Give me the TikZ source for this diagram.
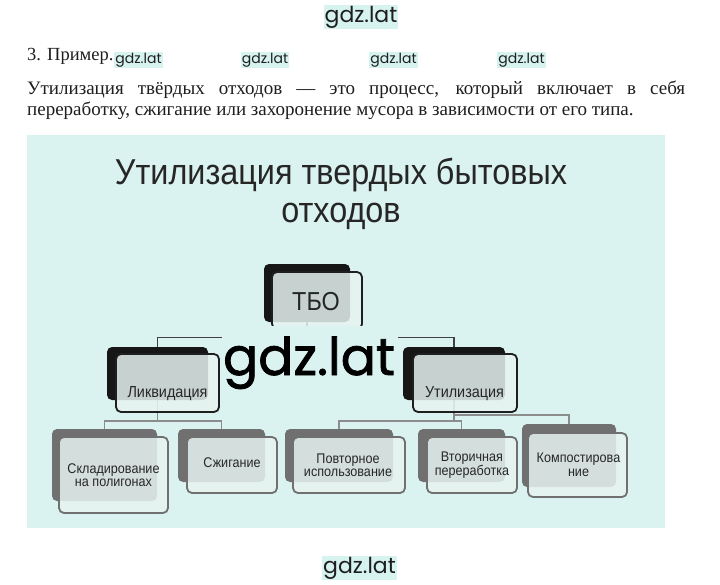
\documentclass[tikz,border=0pt]{standalone}
\usepackage{fontspec}
\setmainfont{Liberation Serif}
\newfontfamily\diag[FakeStretch=0.9]{Liberation Sans}
\newfontfamily\wm{Poppins}
\newfontfamily\wmb[FakeBold=1.5]{Poppins}
\definecolor{panel}{RGB}{219,243,240}
\definecolor{frontfill}{RGB}{230,243,241}
\definecolor{darkback}{RGB}{22,22,22}
\definecolor{grayback}{RGB}{112,112,112}
\definecolor{hl}{RGB}{214,243,239}
\definecolor{ink}{RGB}{30,30,30}
\tikzset{
 box/.style={rectangle, rounded corners=5pt, inner sep=0pt},
 backA/.style={box, fill=darkback},
 backB/.style={box, fill=grayback},
 frontA/.style={box, draw=black!88, line width=1.8pt, fill=frontfill, fill opacity=0.85},
 frontB/.style={box, draw=grayback, line width=1.8pt, fill=frontfill, fill opacity=0.85},
 linkA/.style={draw=black!75, line width=1.3pt},
 linkB/.style={draw=black!45, line width=1.8pt},
 lbl/.style={font=\diag\fontsize{14}{13.5}\selectfont, align=center, text=black!85, inner sep=0pt},
 lblm/.style={font=\diag\fontsize{16}{16}\selectfont, text=black!85, inner sep=0pt, anchor=base},
 wmsmall/.style={font=\wm\fontsize{14}{14}\selectfont, anchor=base, fill=hl, inner sep=1pt, text=ink},
 wmbig/.style={font=\wm\fontsize{22}{22}\selectfont, anchor=base, fill=hl, inner sep=1pt, text=ink},
 serif/.style={font=\fontsize{19}{21}\selectfont, anchor=base west, inner sep=0pt, text=ink},
}
\begin{document}
\begin{tikzpicture}[x=1pt,y=-1pt]
\fill[white] (0,0) rectangle (720,584);
\useasboundingbox (0,0) rectangle (720,584);
% header texts
\node[wmbig] (wmtop) at (361,22) {gdz.lat};
\node[wmsmall] (wm1) at (138.5,63) {gdz.lat};
\node[wmsmall] (wm2) at (265,63) {gdz.lat};
\node[wmsmall] (wm3) at (393.5,63) {gdz.lat};
\node[wmsmall] (wm4) at (521.5,63) {gdz.lat};
\node[serif, font=\fontsize{18.5}{21}\selectfont] (ex) at (27,60) {3. Пример.};
\node[serif] (p1) at (27,94.5) {\makebox[658pt][s]{Утилизация твёрдых отходов — это процесс, который включает в себя}};
\node[serif] (p2) at (27,115) {переработку, сжигание или захоронение мусора в зависимости от его типа.};
% panel
\fill[panel] (27,134.5) rectangle (665,528);
\node[font=\diag\fontsize{36}{38}\selectfont, anchor=base, text=black!85, inner sep=0pt] (t1) at (341,184) {Утилизация твердых бытовых};
\node[font=\diag\fontsize{36}{38}\selectfont, anchor=base, text=black!85, inner sep=0pt] (t2) at (341,222) {отходов};
% back boxes
\node[backA, minimum width=86pt, minimum height=58pt] (tboB) at (307,293) {};
\node[backA, minimum width=101pt, minimum height=53pt] (liqB) at (157.5,373.5) {};
\node[backA, minimum width=102pt, minimum height=53pt] (utiB) at (454,373.5) {};
\node[backB, minimum width=105pt, minimum height=72pt] (sklB) at (104.5,465) {};
\node[backB, minimum width=87pt, minimum height=53pt] (szhB) at (221.5,455.5) {};
\node[backB, minimum width=108pt, minimum height=53pt] (povB) at (339,455.5) {};
\node[backB, minimum width=87pt, minimum height=53pt] (vtoB) at (461.5,455.5) {};
\node[backB, minimum width=94pt, minimum height=63pt] (komB) at (569,455.5) {};
% connectors
\draw[linkA] (tboB.south) -- ++(0,15) coordinate (j1) -| (liqB.north);
\draw[linkA] (j1) -| (utiB.north);
\draw[linkB] (liqB.south) -- ++(0,21) coordinate (j2) -| (sklB.north);
\draw[linkB] (j2) -| (szhB.north);
\draw[linkB] (utiB.south) -- ++(0,15) -| (komB.north);
\draw[linkB] (utiB.south) -- ++(0,21) coordinate (j3) -| (povB.north);
\draw[linkB] (j3) -| (vtoB.north);
% front boxes
\node[frontA, minimum width=90pt, minimum height=57pt] (tboF) at (317,300.5) {};
\node[frontA, minimum width=103pt, minimum height=58pt] (liqF) at (167.5,383) {};
\node[frontA, minimum width=104pt, minimum height=58pt] (utiF) at (465,383) {};
\node[frontB, minimum width=109pt, minimum height=76pt] (sklF) at (113.5,475) {};
\node[frontB, minimum width=90pt, minimum height=56pt] (szhF) at (232,465) {};
\node[frontB, minimum width=112pt, minimum height=56pt] (povF) at (349,465) {};
\node[frontB, minimum width=90pt, minimum height=56pt] (vtoF) at (472,465) {};
\node[frontB, minimum width=99pt, minimum height=64pt] (komF) at (577.5,465) {};
% labels
\node[font=\diag\fontsize{26}{26}\selectfont, text=black!85, inner sep=0pt, anchor=base] (tboT) at (316,310) {ТБО};
\node[lblm] (liqT) at (167.5,397) {Ликвидация};
\node[lblm] (utiT) at (464.5,397) {Утилизация};
\node[lbl] (sklT) at (113.5,475) {Складирование\\на полигонах};
\node[lbl] (szhT) at (232,463) {Сжигание};
\node[lbl] (povT) at (348,465) {Повторное\\использование};
\node[lbl] (vtoT) at (472,465) {Вторичная\\переработка};
\node[lbl] (komT) at (578.5,464.5) {Компостирова\\ние};
% watermarks
\node[fill=panel, minimum width=176pt, minimum height=64pt, inner sep=0pt] (wmbox) at (310,358) {};
\node[font=\wmb\fontsize{52}{52}\selectfont, anchor=base, text=black, inner sep=0pt] (wmc) at (309,375) {gdz.lat};
\node[wmbig] (wmbot) at (359.5,573) {gdz.lat};
\end{tikzpicture}
\end{document}
